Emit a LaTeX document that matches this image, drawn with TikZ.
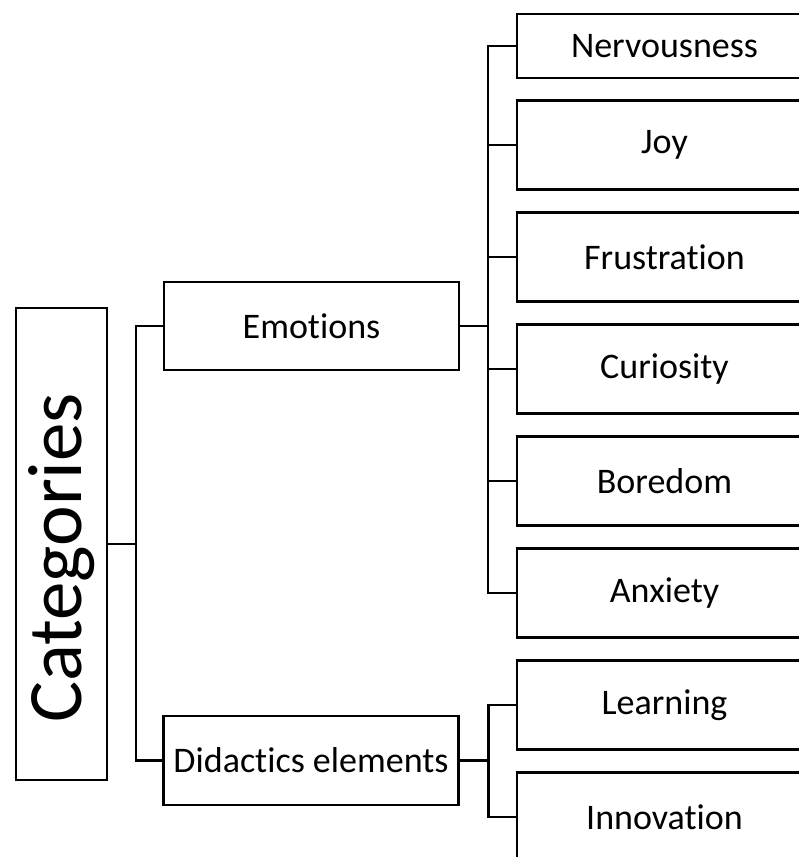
\documentclass[tikz,border=0pt]{standalone}
\usepackage{fontspec}
\setmainfont{Carlito}[Ligatures=NoCommon]
\usepackage{tikz}
\tikzset{catbox/.style={draw=black, line width=2.2pt, rectangle, inner sep=2pt,
                        font=\fontsize{77}{80}\selectfont},
         midbox/.style={draw=black, line width=2.2pt, rectangle, inner sep=2pt,
                        minimum width=295pt, minimum height=88pt,
                        font=\fontsize{36}{40}\selectfont},
         leafbox/.style={midbox, minimum height=89pt},
         conn/.style={black, line width=2.6pt}}

\begin{document}
\begin{tikzpicture}[x=1pt,y=-1pt]
\path[use as bounding box, clip] (0,0) rectangle (799,857);

% root
\node[catbox, rotate=90, minimum width=472pt, minimum height=91pt] (cat) at (61.5,544) {Categories\hspace*{28pt}};

% first level
\node[midbox] (emo) at (311.5,326) {Emotions};
\node[midbox, minimum height=89pt] (did) at (311,760.5) {Didactics elements};

% emotions
\node[leafbox, minimum height=64pt] (nerv) at (664.5,46) {Nervousness};
\foreach \name/\txt/\y in {joy/Joy/145, fru/Frustration/257, cur/Curiosity/369,
                           bor/Boredom/481, anx/Anxiety/593}
{
\node[leafbox] (\name) at (664.5,\y) {\txt};
}

% didactics elements
\node[leafbox] (lea) at (664.5,705) {Learning};
\node[leafbox] (inn) at (664.5,817) {Innovation};

% connectors
\draw[conn] (cat.south) -- ++(28,0) |- (emo.west);
\draw[conn] (cat.south) -- ++(28,0) |- (did.west);

\foreach \name in {nerv,joy,fru,cur,bor,anx}
{
\draw[conn] (emo.east) -- ++(28,0) |- (\name.west);
}

\foreach \name in {lea,inn}
{
\draw[conn] (did.east) -- ++(29,0) |- (\name.west);
}
\end{tikzpicture}
\end{document}
